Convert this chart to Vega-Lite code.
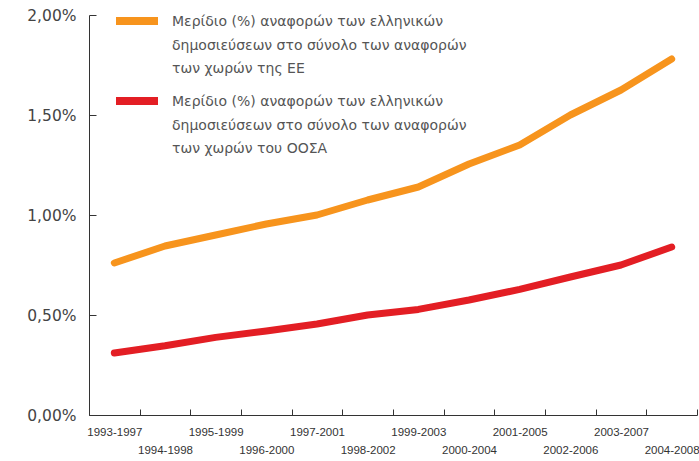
{
  "$schema": "https://vega.github.io/schema/vega-lite/v6.json",
  "width": 608,
  "height": 400,
  "autosize": {"type": "none"},
  "padding": {"left": 89, "top": 15, "right": 2, "bottom": 46},
  "background": "white",
  "config": {
    "view": {"stroke": null},
    "style": {"guide-label": {"lineHeight": 23.5}}
  },
  "datasets": {
    "rows": [
      {"period": "1993-1997", "series": "EU", "value": 0.76},
      {"period": "1994-1998", "series": "EU", "value": 0.845},
      {"period": "1995-1999", "series": "EU", "value": 0.9},
      {"period": "1996-2000", "series": "EU", "value": 0.955},
      {"period": "1997-2001", "series": "EU", "value": 1.0},
      {"period": "1998-2002", "series": "EU", "value": 1.075},
      {"period": "1999-2003", "series": "EU", "value": 1.14},
      {"period": "2000-2004", "series": "EU", "value": 1.255},
      {"period": "2001-2005", "series": "EU", "value": 1.35},
      {"period": "2002-2006", "series": "EU", "value": 1.5},
      {"period": "2003-2007", "series": "EU", "value": 1.625},
      {"period": "2004-2008", "series": "EU", "value": 1.78},
      {"period": "1993-1997", "series": "OECD", "value": 0.31},
      {"period": "1994-1998", "series": "OECD", "value": 0.346},
      {"period": "1995-1999", "series": "OECD", "value": 0.388},
      {"period": "1996-2000", "series": "OECD", "value": 0.42},
      {"period": "1997-2001", "series": "OECD", "value": 0.455},
      {"period": "1998-2002", "series": "OECD", "value": 0.5},
      {"period": "1999-2003", "series": "OECD", "value": 0.528},
      {"period": "2000-2004", "series": "OECD", "value": 0.575},
      {"period": "2001-2005", "series": "OECD", "value": 0.628},
      {"period": "2002-2006", "series": "OECD", "value": 0.69},
      {"period": "2003-2007", "series": "OECD", "value": 0.75},
      {"period": "2004-2008", "series": "OECD", "value": 0.84}
    ]
  },
  "data": {"name": "rows"},
  "mark": {"type": "line", "strokeWidth": 7, "strokeCap": "round", "strokeJoin": "round"},
  "encoding": {
    "x": {
      "field": "period",
      "type": "ordinal",
      "sort": null,
      "scale": {"type": "band", "paddingInner": 0, "paddingOuter": 0},
      "axis": {
        "title": null,
        "labelAngle": 0,
        "tickBand": "extent",
        "tickSize": -6,
        "tickColor": "#333",
        "domainColor": "#333",
        "labelFont": "Liberation Sans",
        "labelFontSize": 11.5,
        "labelColor": "#333",
        "labelBaseline": "top",
        "labelPadding": {"condition": {"test": "parseInt(substring(datum.value,3,4)) % 2 == 0", "value": 35}, "value": 17}
      }
    },
    "y": {
      "field": "value",
      "type": "quantitative",
      "scale": {"domain": [0, 2], "nice": false},
      "axis": {
        "title": null,
        "values": [0, 0.5, 1, 1.5, 2],
        "labelExpr": "replace(format(datum.value,'.2f'),'.',',') + '%'",
        "tickSize": -7,
        "tickColor": "#333",
        "domainColor": "#333",
        "labelPadding": 20,
        "labelFont": "DejaVu Sans",
        "labelFontSize": 15.5,
        "labelColor": "#444",
        "grid": false
      }
    },
    "color": {
      "field": "series",
      "type": "nominal",
      "scale": {"domain": ["EU", "OECD"], "range": ["#F7941D", "#E31E24"]},
      "legend": {
        "title": null,
        "orient": "none",
        "legendX": 23,
        "legendY": -19,
        "padding": 0,
        "symbolType": "stroke",
        "symbolStrokeWidth": 8,
        "symbolSize": 1764,
        "labelOffset": 10,
        "labelLimit": 500,
        "labelFont": "DejaVu Sans",
        "labelFontSize": 14,
        "labelColor": "#555",
        "labelBaseline": "top",
        "rowPadding": -7,
        "encode": {"labels": {"update": {"dy": {"value": -6}}}},
        "labelExpr": "datum.label == 'EU' ? ['Μερίδιο (%) αναφορών των ελληνικών', 'δημοσιεύσεων στο σύνολο των αναφορών', 'των χωρών της ΕΕ'] : ['Μερίδιο (%) αναφορών των ελληνικών', 'δημοσιεύσεων στο σύνολο των αναφορών', 'των χωρών του ΟΟΣΑ']"
      }
    }
  }
}
